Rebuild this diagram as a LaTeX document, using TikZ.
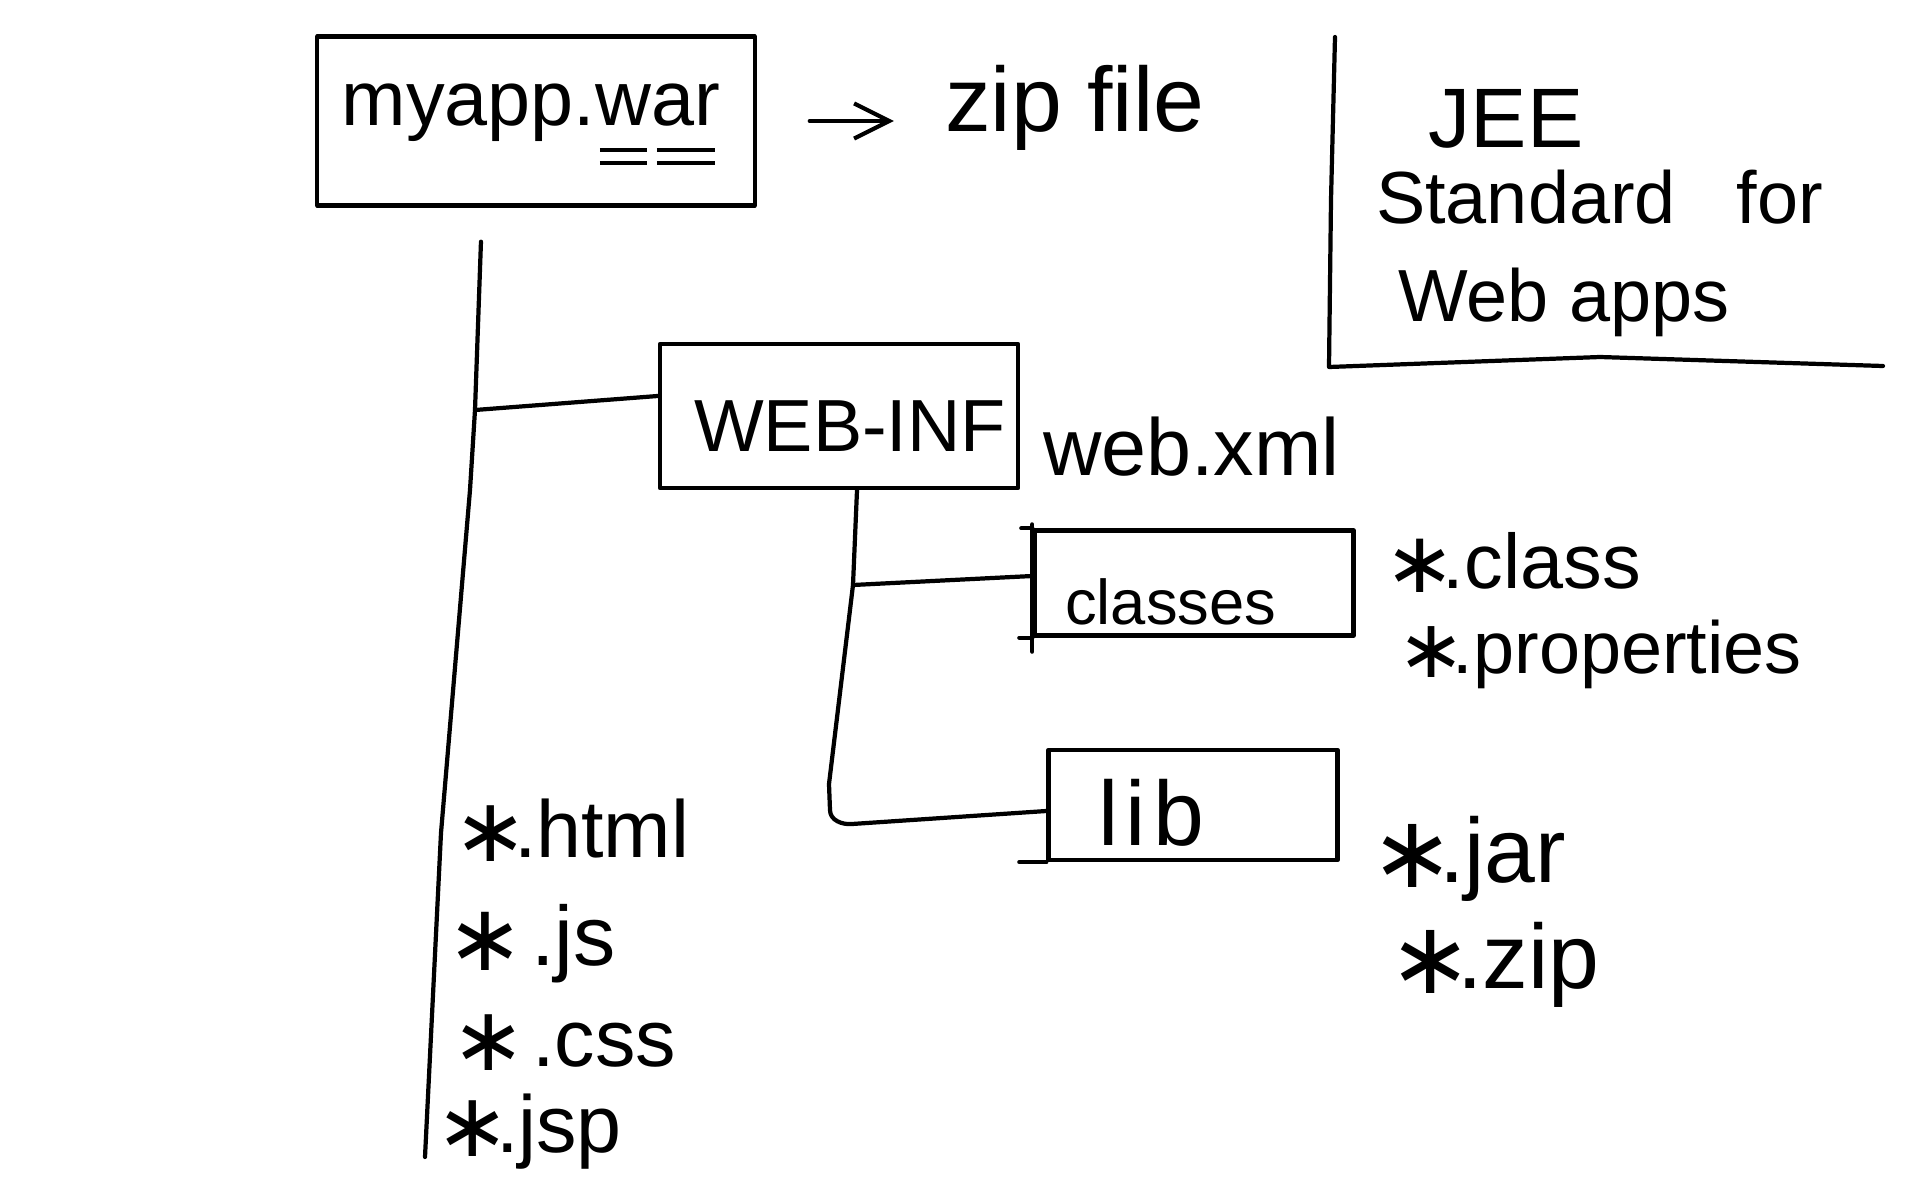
\documentclass[tikz,border=0pt]{standalone}
\usepackage{fontspec}
\setmainfont{Liberation Sans}
\newfontfamily\djv[Scale=1.1]{DejaVu Sans}
\usetikzlibrary{arrows.meta}
\newcommand\stark{\makebox[0.58em][c]{\raisebox{-0.06em}{\djv ∗}}}
\newcommand\dul[1]{\setbox0\hbox{#1}\rlap{\hspace{0.08\wd0}\rule[-0.35em]{0.84\wd0}{1.2pt}}\rlap{\hspace{0.08\wd0}\rule[-0.52em]{0.84\wd0}{1.2pt}}\box0}
\begin{document}
\begin{tikzpicture}[x=0.01cm,y=-0.01cm,line width=1.2pt,line cap=round,line join=round,
  box/.style={draw,rectangle,inner sep=0pt},
  txt/.style={inner sep=0pt,anchor=base west,font=\fontsize{#1}{#1}\selectfont},
  txt/.default=23]
\fill[white] (0,0) rectangle (1920,1200);
\useasboundingbox (0,0) rectangle (1920,1200);

% top: war file
\node[box,minimum width=4.37cm,minimum height=1.69cm] (war) at (536,121) {};
\node[txt=22,anchor=base] (wartext) at (531,125) {myapp.\dul{w}\dul{ar}};
\node[txt=26] (zip) at (943,131) {zip file};
\draw[-{Straight Barb[length=10pt,width=10pt]},shorten <=0.53cm,shorten >=0.49cm] (war.east) -- (war.east -| zip.west);

% JEE note
\node[txt=24,anchor=base] (jee) at (1506,147) {JEE};
\node[txt=21] (std) at (1374,223) {Standard\hspace{0.55em} for};
\node[txt=21] (webapps) at (1396,321) {Web apps};
\draw (1335,37) -- (1331,200) -- (1329,367) -- (1600,357) -- (1883,366);

% WEB-INF
\node[box,minimum width=3.58cm,minimum height=1.44cm] (webinf) at (839,416) {};
\node[txt=21] (webinftext) at (692,451) {WEB-INF};
\node[txt=23] (webxml) at (1041,475) {web.xml};

% classes
\node[box,minimum width=3.19cm,minimum height=1.05cm] (classes) at (1194,583) {};
\node[txt=18] (classestext) at (1063,624) {classes};
\node[txt=22] (cls) at (1396,588) {\stark.class};
\node[txt=21] (props) at (1408,673) {\stark.properties};
\draw ([yshift=0.04cm]classes.north west) -- ([yshift=-0.14cm]classes.south west);
\draw ([xshift=-0.11cm]classes.north west) -- (classes.north west);
\draw ([xshift=-0.13cm]classes.south west) -- (classes.south west);

% lib
\node[box,minimum width=2.89cm,minimum height=1.1cm] (lib) at (1193,805) {};
\node[txt=26] (libtext) at (1096,845) {\addfontfeature{LetterSpace=8}lib};
\node[txt=26] (jar) at (1384,882) {\stark.jar};
\node[txt=26] (zipx) at (1402,988) {\stark.zip};
\draw ([xshift=-0.27cm]lib.south west) -- (lib.south west);

% root-level files
\node[txt=23] (html) at (465,857) {\stark.html};
\node[txt=24] (js) at (459,965) {\stark\hspace{0.25em}.js};
\node[txt=23] (css) at (463,1066) {\stark\hspace{0.25em}.css};
\node[txt=23] (jsp) at (447,1152) {\stark.jsp};

% main trunk
\coordinate (tJoin) at (475,410);
\coordinate (tBend) at (470,490);
\coordinate (tLow) at (441,833);
\coordinate (tEnd) at (425,1157);
\draw ([xshift=-0.55cm,yshift=-0.34cm]war.south) -- (tJoin) -- (tBend) -- (tLow) -- (tEnd);
\draw (tJoin) -- ([yshift=0.2cm]webinf.west);

% WEB-INF trunk
\coordinate (sJoin) at (853,585);
\coordinate (sLow) at (829,784);
\draw ([xshift=0.18cm]webinf.south) -- (sJoin) -- (sLow) -- (830,810) to[out=-90,in=185] (852,824) -- ([yshift=-0.06cm]lib.west);
\draw (sJoin) -- ([yshift=0.07cm]classes.west);
\end{tikzpicture}
\end{document}
